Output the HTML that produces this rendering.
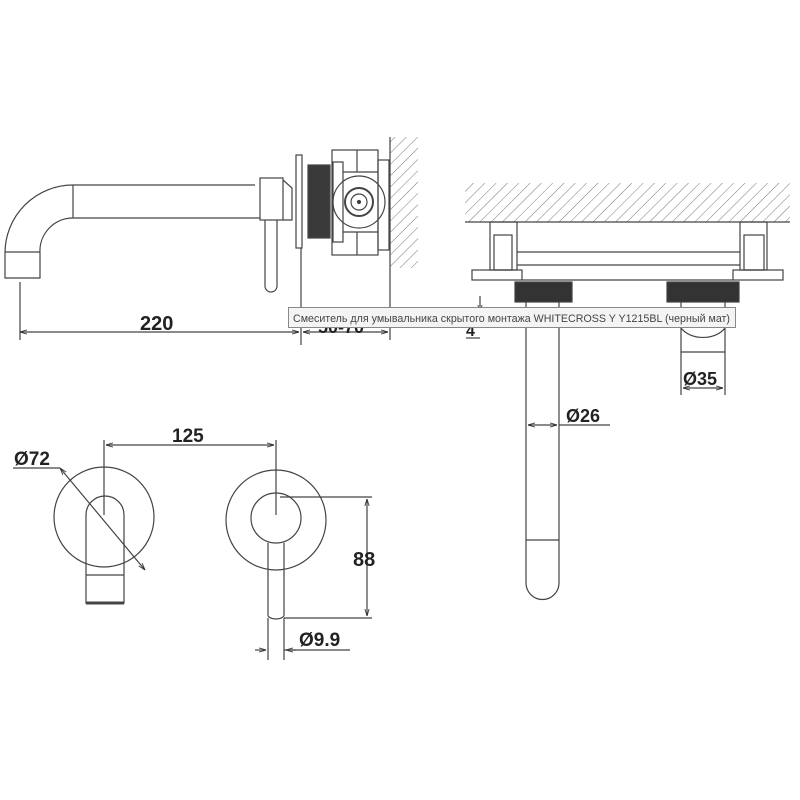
<!DOCTYPE html>
<html><head><meta charset="utf-8"><style>
html,body{margin:0;padding:0;background:#fff;width:800px;height:800px;overflow:hidden}
.t{font-family:"Liberation Sans",Arial,sans-serif;font-weight:bold;fill:#222}
</style></head><body>
<svg width="800" height="800" viewBox="0 0 800 800" xmlns="http://www.w3.org/2000/svg">
<defs>
<pattern id="h" width="8" height="8" patternUnits="userSpaceOnUse" patternTransform="rotate(45)">
<line x1="0" y1="0" x2="0" y2="8" stroke="#555" stroke-width="0.8"/>
</pattern>
<marker id="a" viewBox="0 0 10 10" refX="10" refY="5" markerWidth="6" markerHeight="6" orient="auto-start-reverse"><path d="M0,2 L10,5 L0,8" fill="none" stroke="#333" stroke-width="1.2"/></marker>
</defs>
<g fill="none" stroke="#444" stroke-width="1.2">
<path d="M255,185 H73 A68,68 0 0 0 5,253 V278 H40 V253 A33,33 0 0 1 73,218 H260"/>
<line x1="73" y1="185" x2="73" y2="218"/>
<line x1="5" y1="252" x2="40" y2="252"/>
<rect x="260" y="178" width="23" height="42"/>
<path d="M283,180 L292,188 V220 L283,220"/>
<path d="M265,220 V286 A6,6 0 0 0 277,286 V220"/>
<rect x="296" y="155" width="6" height="93"/>
<rect x="308" y="165" width="22" height="73" fill="#3a3a3a"/>
<rect x="332" y="150" width="46" height="105"/>
<rect x="333" y="162" width="10" height="80"/>
<line x1="343" y1="172" x2="378" y2="172"/><line x1="343" y1="232" x2="378" y2="232"/>
<line x1="357" y1="150" x2="357" y2="172"/><line x1="357" y1="232" x2="357" y2="255"/>
<rect x="378" y="160" width="11" height="90"/>
<circle cx="359" cy="202" r="26"/><circle cx="359" cy="202" r="14" stroke-width="2"/><circle cx="359" cy="202" r="8"/>
<circle cx="359" cy="202" r="1.5" fill="#333"/>
<rect x="390" y="137" width="28" height="131" fill="url(#h)" stroke="none"/>
<line x1="390" y1="137" x2="390" y2="340"/>
<line x1="301" y1="248" x2="301" y2="345"/>
<line x1="20" y1="282" x2="20" y2="340"/>
<line x1="20" y1="332" x2="299" y2="332" marker-start="url(#a)" marker-end="url(#a)"/>
<line x1="303" y1="332" x2="388" y2="332" marker-start="url(#a)" marker-end="url(#a)"/>
<rect x="465" y="183" width="325" height="39" fill="url(#h)" stroke="none"/>
<line x1="465" y1="222" x2="790" y2="222"/>
<rect x="490" y="222" width="27" height="48"/><rect x="494" y="235" width="18" height="35"/>
<rect x="740" y="222" width="27" height="48"/><rect x="744" y="235" width="20" height="35"/>
<line x1="517" y1="252" x2="740" y2="252"/><line x1="517" y1="265" x2="740" y2="265"/>
<rect x="472" y="270" width="50" height="10"/><rect x="733" y="270" width="50" height="10"/>
<line x1="522" y1="280" x2="733" y2="280"/>
<rect x="515" y="282" width="57" height="20" fill="#333"/>
<rect x="667" y="282" width="72" height="20" fill="#333"/>
<path d="M526,302 V583 A16.5,16.5 0 0 0 559,583 V302"/>
<line x1="526" y1="540" x2="559" y2="540"/>
<path d="M681,302 V395 M725,302 V395 M681,328 A25,18 0 0 0 725,328"/>
<line x1="681" y1="352" x2="725" y2="352"/>
<line x1="683" y1="388" x2="723" y2="388" marker-start="url(#a)" marker-end="url(#a)"/>
<line x1="528" y1="425" x2="557" y2="425" marker-start="url(#a)" marker-end="url(#a)"/>
<line x1="559" y1="425" x2="610" y2="425"/>
<line x1="480" y1="296" x2="480" y2="312" marker-end="url(#a)"/>
<line x1="466" y1="338" x2="480" y2="338"/>
<circle cx="104" cy="517" r="50"/>
<path d="M86,603 V515 A19,19 0 0 1 124,515 V603 Z"/>
<line x1="86" y1="575" x2="124" y2="575"/>
<line x1="86" y1="603" x2="124" y2="603" stroke-width="3"/>
<line x1="13" y1="468" x2="60" y2="468"/>
<line x1="60" y1="468" x2="145" y2="570" marker-start="url(#a)" marker-end="url(#a)"/>
<circle cx="276" cy="520" r="50"/>
<circle cx="276" cy="518" r="25"/>
<path d="M268,543 V615 A8,4 0 0 0 284,615 V543"/>
<line x1="104" y1="440" x2="104" y2="515"/>
<line x1="276" y1="440" x2="276" y2="515"/>
<line x1="106" y1="445" x2="274" y2="445" marker-start="url(#a)" marker-end="url(#a)"/>
<line x1="280" y1="497" x2="372" y2="497"/><line x1="284" y1="618" x2="372" y2="618"/>
<line x1="367" y1="499" x2="367" y2="616" marker-start="url(#a)" marker-end="url(#a)"/>
<line x1="268" y1="618" x2="268" y2="660"/><line x1="284" y1="618" x2="284" y2="660"/>
<line x1="255" y1="650" x2="266" y2="650" marker-end="url(#a)"/>
<line x1="296" y1="650" x2="286" y2="650" marker-end="url(#a)"/>
<line x1="284" y1="650" x2="350" y2="650"/>
</g>
<g class="t">
<text x="140" y="330" font-size="20">220</text>
<text x="318" y="333" font-size="18">50-70</text>
<text x="466" y="336" font-size="16">4</text>
<text x="683" y="385" font-size="18">Ø35</text>
<text x="566" y="422" font-size="18">Ø26</text>
<text x="14" y="465" font-size="19">Ø72</text>
<text x="172" y="442" font-size="19">125</text>
<text x="353" y="566" font-size="20">88</text>
<text x="299" y="646" font-size="19">Ø9.9</text>
</g>
<rect x="288.5" y="307.5" width="447" height="20" fill="#f4f4f4" stroke="#888"/>
<text x="293" y="322" font-family="Liberation Sans, sans-serif" font-size="11" fill="#444" textLength="437" lengthAdjust="spacingAndGlyphs">Смеситель для умывальника скрытого монтажа WHITECROSS Y Y1215BL (черный мат)</text>
</svg>
</body></html>
